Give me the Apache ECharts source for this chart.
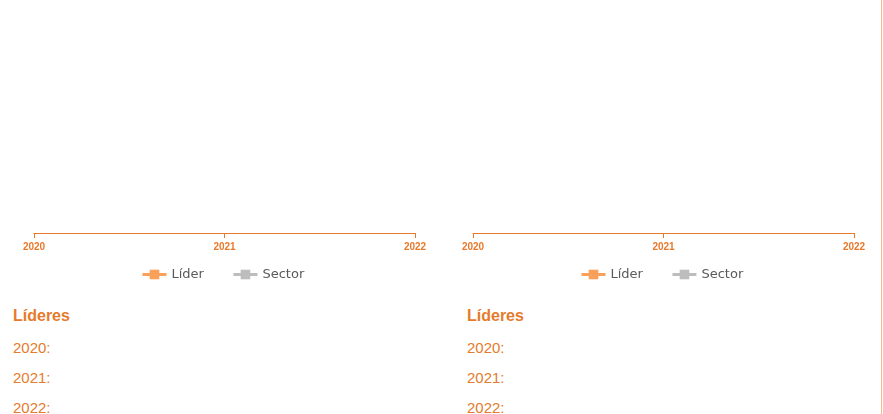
<!DOCTYPE html>
<html>
<head>
<meta charset="utf-8">
<script src="https://cdn.jsdelivr.net/npm/echarts@6/dist/echarts.min.js"></script>
<style>
  html, body { margin: 0; padding: 0; background: #ffffff; }
  #wrap { position: relative; width: 881px; height: 414px; border-right: 1px solid #f6b98a; }
  #chart { position: absolute; left: 0; top: 0; width: 881px; height: 290px; }
  .lideres { position: absolute; top: 304px; font-family: "Liberation Sans", Arial, sans-serif; color: #e57b2c; }
  .lideres .ttl { font-weight: bold; font-size: 16px; height: 24px; line-height: 24px; }
  .lideres .row { font-size: 15px; height: 30px; line-height: 30px; }
</style>
</head>
<body>
<div id="wrap">
  <div id="chart"></div>
  <div class="lideres" style="left:13px">
    <div class="ttl">Líderes</div>
    <div class="row" style="margin-top:5px">2020:</div>
    <div class="row">2021:</div>
    <div class="row">2022:</div>
  </div>
  <div class="lideres" style="left:467px">
    <div class="ttl">Líderes</div>
    <div class="row" style="margin-top:5px">2020:</div>
    <div class="row">2021:</div>
    <div class="row">2022:</div>
  </div>
</div>
<script>
// datos
const years = ["2020", "2021", "2022"];
const liderLeft = [];
const sectorLeft = [];
const liderRight = [];
const sectorRight = [];
const seriesNames = ["Líder", "Sector"];

const orange = "#e8792b";
const liderColor = "#f9a05b";
const sectorColor = "#bdbdbd";

function xAxisFor(gridIndex) {
  return {
    type: "category",
    gridIndex: gridIndex,
    data: years,
    boundaryGap: false,
    axisLine: { show: true, lineStyle: { color: orange, width: 1 } },
    axisTick: { show: true, length: 5, lineStyle: { color: orange } },
    axisLabel: { color: orange, fontSize: 10, fontWeight: "bold", margin: 9, fontFamily: "Liberation Sans, Arial, sans-serif" },
    splitLine: { show: false },
  };
}

function yAxisFor(gridIndex) {
  return {
    type: "value",
    gridIndex: gridIndex,
    min: 0,
    max: 100,
    show: false,
  };
}

function legendFor(leftX) {
  return {
    left: leftX,
    top: 263,
    itemWidth: 24,
    itemHeight: 12,
    itemGap: 28,
    lineStyle: { width: 3 },
    data: seriesNames,
    textStyle: { color: "#5a5a5a", fontSize: 13, fontFamily: "DejaVu Sans, sans-serif" },
  };
}

function lineSeries(name, data, color, idx) {
  return {
    name: name,
    type: "line",
    xAxisIndex: idx,
    yAxisIndex: idx,
    data: data,
    symbol: "rect",
    symbolSize: 9,
    itemStyle: { color: color },
    lineStyle: { color: color, width: 3 },
  };
}

const chart = echarts.init(document.getElementById("chart"));
chart.setOption({
  animation: false,
  grid: [
    { left: 34, width: 381, top: 20, height: 213 },
    { left: 473, width: 381, top: 20, height: 213 },
  ],
  legend: [
    Object.assign(legendFor(136), { id: "l1" }),
    Object.assign(legendFor(575), { id: "l2" }),
  ],
  xAxis: [xAxisFor(0), xAxisFor(1)],
  yAxis: [yAxisFor(0), yAxisFor(1)],
  series: [
    lineSeries("Líder", liderLeft, liderColor, 0),
    lineSeries("Sector", sectorLeft, sectorColor, 0),
    lineSeries("Líder", liderRight, liderColor, 1),
    lineSeries("Sector", sectorRight, sectorColor, 1),
  ],
});
</script>
</body>
</html>
